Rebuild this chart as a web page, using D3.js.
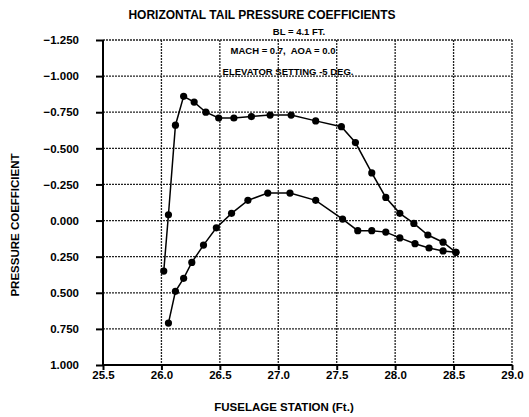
<!DOCTYPE html>
<html><head><meta charset="utf-8">
<script src="https://cdn.jsdelivr.net/npm/d3@7"></script>
<style>body{margin:0;background:#fff}svg{display:block;font-family:"Liberation Sans",Arial,sans-serif;font-weight:bold}</style>
</head><body>
<svg id="c" width="529" height="417"></svg>
<script>
const xTicks = [25.5, 26.0, 26.5, 27.0, 27.5, 28.0, 28.5, 29.0];
const yTicks = [-1.25, -1.0, -0.75, -0.5, -0.25, 0, 0.25, 0.5, 0.75, 1.0];
const upperX = [26.02,26.06,26.12,26.19,26.28,26.38,26.49,26.62,26.77,26.93,27.11,27.32,27.54,27.66,27.80,27.92,28.04,28.16,28.28,28.41,28.52];
const upperY = [0.35,-0.04,-0.66,-0.86,-0.82,-0.75,-0.71,-0.71,-0.72,-0.73,-0.73,-0.69,-0.65,-0.54,-0.33,-0.16,-0.05,0.02,0.10,0.15,0.22];
const lowerX = [26.06,26.12,26.19,26.26,26.36,26.47,26.60,26.74,26.91,27.10,27.32,27.55,27.68,27.80,27.92,28.04,28.17,28.29,28.41,28.52];
const lowerY = [0.71,0.49,0.40,0.29,0.17,0.05,-0.05,-0.14,-0.19,-0.19,-0.14,-0.01,0.07,0.07,0.08,0.12,0.16,0.19,0.21,0.22];
const title = "HORIZONTAL TAIL PRESSURE COEFFICIENTS";
const notes = ["BL = 4.1 FT.", "MACH = 0.7,  AOA = 0.0", "ELEVATOR SETTING -5 DEG."];

const svg = d3.select("#c");
const L = 103, R = 512, T = 40, B = 365;
const x = d3.scaleLinear().domain([25.5, 29.0]).range([L, R]);
const y = d3.scaleLinear().domain([-1.25, 1.0]).range([T, B]);

// grid
const g = svg.append("g");
g.selectAll("line.h").data(yTicks).join("line")
  .attr("x1", L).attr("x2", R).attr("y1", d => y(d)).attr("y2", d => y(d))
  .attr("stroke", "#222").attr("stroke-width", 1.3).attr("stroke-dasharray", "2,1");
g.selectAll("line.v").data(xTicks).join("line")
  .attr("y1", T).attr("y2", B).attr("x1", d => x(d)).attr("x2", d => x(d))
  .attr("stroke", "#222").attr("stroke-width", 1.3).attr("stroke-dasharray", "2,1");

// axes
const yAxis = svg.append("g").attr("transform", `translate(${L},0)`)
  .call(d3.axisLeft(y).tickValues(yTicks).tickSize(7).tickPadding(17)
    .tickFormat(d => d3.format(".3f")(d)));
const xAxis = svg.append("g").attr("transform", `translate(0,${B})`)
  .call(d3.axisBottom(x).tickValues(xTicks).tickSize(5).tickPadding(1)
    .tickFormat(d3.format(".1f")));
[yAxis, xAxis].forEach(a => {
  a.select(".domain").attr("stroke", "#000").attr("stroke-width", 2);
  a.selectAll(".tick line").attr("stroke", "#000").attr("stroke-width", 2);
  a.selectAll("text").attr("fill", "#000").style("font-size", "11.5px")
    .style("font-family", '"Liberation Sans",Arial,sans-serif').style("font-weight", "bold");
});
yAxis.select(".domain").attr("d", `M0,${T}V${B}`);
xAxis.select(".domain").attr("d", `M${L},0H${R}`);

// series
const line = d3.line().x(d => x(d[0])).y(d => y(d[1]));
[[upperX, upperY], [lowerX, lowerY]].forEach(([xs, ys]) => {
  const pts = xs.map((v, i) => [v, ys[i]]);
  svg.append("path").datum(pts).attr("d", line)
    .attr("fill", "none").attr("stroke", "#000").attr("stroke-width", 1.5);
  svg.append("g").selectAll("circle").data(pts).join("circle")
    .attr("cx", d => x(d[0])).attr("cy", d => y(d[1])).attr("r", 3.6).attr("fill", "#000");
});

// text
svg.append("text").attr("x", 262).attr("y", 18.5).attr("text-anchor", "middle")
  .style("font-size", "12px").text(title);
const nx = [299, 283, 288], ny = [34.5, 53.5, 75];
notes.forEach((t, i) => svg.append("text").attr("x", nx[i]).attr("y", ny[i])
  .attr("text-anchor", "middle").style("font-size", "9.5px").style("white-space", "pre").text(t));
svg.append("text").attr("x", 284).attr("y", 411).attr("text-anchor", "middle")
  .style("font-size", "11.5px").text("FUSELAGE STATION (Ft.)");
svg.append("text").attr("transform", "translate(19,225) rotate(-90)").attr("text-anchor", "middle")
  .style("font-size", "11.5px").text("PRESSURE COEFFICIENT");
</script>
</body></html>
